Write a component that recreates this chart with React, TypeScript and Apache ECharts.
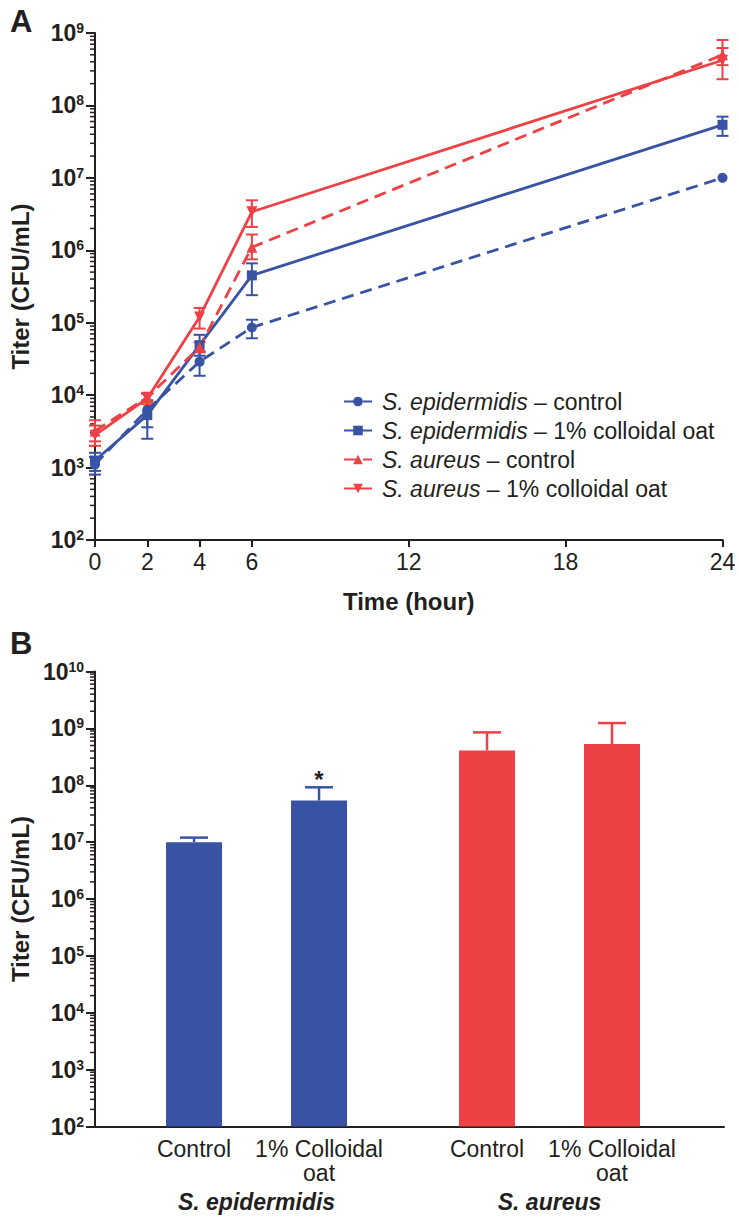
import React, { useEffect, useRef } from "react";
import * as echarts from "echarts";

// ---------- Panel A data ----------
const times = [0, 2, 4, 6, 24];
const timeTicks = [0, 2, 4, 6, 12, 18, 24];
const species = ["S. epidermidis", "S. aureus"];
const treatments = ["control", "1% colloidal oat"];

const epiControl = [1.1e3, 6.3e3, 2.9e4, 8.6e4, 1.0e7];
const epiControlLow = [0.8e3, 3.6e3, 1.85e4, 6.1e4, 1.0e7];
const epiControlHigh = [1.4e3, 8.5e3, 4.0e4, 1.1e5, 1.0e7];

const epiOat = [1.25e3, 5.3e3, 4.9e4, 4.5e5, 5.4e7];
const epiOatLow = [0.9e3, 2.5e3, 3.5e4, 2.4e5, 3.8e7];
const epiOatHigh = [1.6e3, 1.05e4, 6.8e4, 6.6e5, 7.0e7];

const aurControl = [3.2e3, 9.3e3, 4.6e4, 1.1e6, 5.0e8];
const aurControlLow = [2.3e3, 8.2e3, 3.9e4, 7.5e5, 3.6e8];
const aurControlHigh = [4.5e3, 1.05e4, 5.4e4, 1.65e6, 6.2e8];

const aurOat = [2.8e3, 9.0e3, 1.2e5, 3.4e6, 4.2e8];
const aurOatLow = [2.0e3, 7.5e3, 8.3e4, 2.1e6, 2.3e8];
const aurOatHigh = [3.8e3, 1.08e4, 1.6e5, 4.9e6, 8.0e8];

// ---------- Panel B data ----------
const barLabels = ["Control", "1% Colloidal\noat", "Control", "1% Colloidal\noat"];
const barGroupIndex = [0, 0, 1, 1];
const barWithinIndex = [0, 1, 0, 1];
const barValues = [1.0e7, 5.4e7, 4.1e8, 5.3e8];
const barErrHigh = [1.2e7, 9.2e7, 8.5e8, 1.24e9];
const barSig = ["", "*", "", ""];

// ---------- styles ----------
const BLUE = "#3953A4";
const RED = "#EE4145";
const INK = "#231F20";
const FONT = "'Liberation Sans', Arial, Helvetica, sans-serif";

const W = 739;
const H = 1223;

// panel B horizontal layout (pixels -> axis units)
const B_LEFT = 95;
const B_RIGHT = 724;
const B_UNIT = 125; // px between bars in a group
const B_GROUP_STEP = 168 / 125 + 1; // units between first bars of groups
const B_FIRST = 99; // px from axis start to first bar center
const bMin = -B_FIRST / B_UNIT;
const bMax = bMin + (B_RIGHT - B_LEFT) / B_UNIT;
const barPos = barGroupIndex.map((g, i) => g * B_GROUP_STEP + barWithinIndex[i]);
const groupPos = species.map((_, g) => g * B_GROUP_STEP + 0.5);

const minorValues = (lo: number, hi: number) => {
  const out: number[] = [];
  for (let e = lo; e < hi; e++) for (let m = 2; m <= 9; m++) out.push(m * Math.pow(10, e));
  return out;
};

const yLabel = {
  formatter: (v: number) => `{b|10}{s|${Math.round(Math.log10(v))}}`,
  margin: 11,
  rich: {
    b: { fontSize: 23, fontWeight: "bold", color: INK, fontFamily: FONT, lineHeight: 24 },
    s: { fontSize: 14, fontWeight: "bold", color: INK, fontFamily: FONT, verticalAlign: "top", padding: [0, 0, 10, 0] },
  },
};

const noZeroLine = { show: true, onZero: false, lineStyle: { color: INK, width: 2 } };

export default function App() {
  const ref = useRef<HTMLDivElement>(null);
  useEffect(() => {
    document.body.style.margin = "0";
    if (!ref.current) return;
    const chart = echarts.init(ref.current, null, { renderer: "svg" });

    const lineDefs = [
      { name: `${species[0]} – ${treatments[0]}`, data: epiControl, lo: epiControlLow, hi: epiControlHigh, color: BLUE, dashed: true, symbol: "circle", size: 10, rot: 0 },
      { name: `${species[0]} – ${treatments[1]}`, data: epiOat, lo: epiOatLow, hi: epiOatHigh, color: BLUE, dashed: false, symbol: "rect", size: 10, rot: 0 },
      { name: `${species[1]} – ${treatments[0]}`, data: aurControl, lo: aurControlLow, hi: aurControlHigh, color: RED, dashed: true, symbol: "triangle", size: 11, rot: 0 },
      { name: `${species[1]} – ${treatments[1]}`, data: aurOat, lo: aurOatLow, hi: aurOatHigh, color: RED, dashed: false, symbol: "triangle", size: 11, rot: 180 },
    ];

    const errSeries = (d: any) => ({
      type: "custom",
      name: d.name + " err",
      xAxisIndex: 0,
      yAxisIndex: 0,
      data: times.map((t, i) => [t, d.lo[i], d.hi[i]]),
      encode: { x: 0, y: [1, 2] },
      z: 3,
      renderItem: (params: any, api: any) => {
        const x = api.value(0);
        const pLo = api.coord([x, api.value(1)]);
        const pHi = api.coord([x, api.value(2)]);
        const hw = 6;
        const st = { stroke: d.color, lineWidth: 2, fill: "none" };
        if (Math.abs(pLo[1] - pHi[1]) < 1) return { type: "group", children: [] };
        return {
          type: "group",
          children: [
            { type: "line", shape: { x1: pLo[0], y1: pLo[1], x2: pHi[0], y2: pHi[1] }, style: st },
            { type: "line", shape: { x1: pLo[0] - hw, y1: pLo[1], x2: pLo[0] + hw, y2: pLo[1] }, style: st },
            { type: "line", shape: { x1: pHi[0] - hw, y1: pHi[1], x2: pHi[0] + hw, y2: pHi[1] }, style: st },
          ],
        };
      },
    });

    const minorSeries = (gridIdx: number, xMin: number, lo: number, hi: number) => ({
      type: "custom",
      name: "minor" + gridIdx,
      xAxisIndex: gridIdx,
      yAxisIndex: gridIdx,
      data: minorValues(lo, hi).map((v) => [xMin, v]),
      encode: { x: 0, y: 1 },
      silent: true,
      renderItem: (params: any, api: any) => {
        const p = api.coord([api.value(0), api.value(1)]);
        return {
          type: "line",
          shape: { x1: p[0] - 5, y1: p[1], x2: p[0], y2: p[1] },
          style: { stroke: INK, lineWidth: 1.5 },
        };
      },
    });

    const titleStyle = { fontSize: 24, fontWeight: "bold", color: INK, fontFamily: FONT };

    const option: any = {
      animation: false,
      textStyle: { fontFamily: FONT, color: INK },
      title: [
        { text: "A", left: 5, top: 1, textStyle: { fontSize: 31, fontWeight: "bold", color: INK, fontFamily: FONT } },
        { text: "B", left: 5, top: 623, textStyle: { fontSize: 31, fontWeight: "bold", color: INK, fontFamily: FONT } },
      ],
      grid: [
        { left: 95, top: 33, width: 722.5 - 95, height: 540 - 33 },
        { left: B_LEFT, top: 671.5, width: B_RIGHT - B_LEFT, height: 1126.5 - 671.5 },
      ],
      legend: {
        show: true,
        data: lineDefs.map((d) => d.name),
        orient: "vertical",
        left: 338,
        top: 385,
        itemWidth: 28,
        itemHeight: 12,
        itemGap: 6,
        selectedMode: false,
        formatter: (name: string) => {
          const [sp, tr] = name.split(" – ");
          return `{i|${sp}} – ${tr}`;
        },
        textStyle: {
          fontSize: 23,
          fontFamily: FONT,
          color: INK,
          padding: [0, 0, 0, 5],
          rich: { i: { fontStyle: "italic", fontSize: 23, fontFamily: FONT, color: INK } },
        },
      },
      xAxis: [
        {
          type: "value",
          gridIndex: 0,
          min: 0,
          max: 24,
          axisLine: noZeroLine,
          splitLine: { show: false },
          axisTick: { show: true, length: 7, lineStyle: { color: INK, width: 2 }, customValues: timeTicks },
          axisLabel: { customValues: timeTicks, fontSize: 23, color: INK, fontFamily: FONT, margin: 10 },
          name: "Time (hour)",
          nameLocation: "middle",
          nameGap: 49,
          nameTextStyle: titleStyle,
        },
        {
          type: "value",
          gridIndex: 1,
          min: bMin,
          max: bMax,
          axisLine: noZeroLine,
          splitLine: { show: false },
          axisTick: { show: false },
          axisLabel: {
            customValues: barPos,
            formatter: (v: number) => {
              const i = barPos.findIndex((p) => Math.abs(p - v) < 1e-6);
              return i >= 0 ? barLabels[i] : "";
            },
            fontSize: 23,
            lineHeight: 24,
            color: INK,
            fontFamily: FONT,
            margin: 10,
          },
        },
      ],
      yAxis: [
        {
          type: "log",
          logBase: 10,
          gridIndex: 0,
          min: 1e2,
          max: 1e9,
          axisLine: noZeroLine,
          splitLine: { show: false },
          axisTick: { show: true, length: 9, lineStyle: { color: INK, width: 2 } },
          axisLabel: yLabel,
          name: "Titer (CFU/mL)",
          nameLocation: "middle",
          nameGap: 63,
          nameTextStyle: titleStyle,
        },
        {
          type: "log",
          logBase: 10,
          gridIndex: 1,
          min: 1e2,
          max: 1e10,
          axisLine: noZeroLine,
          splitLine: { show: false },
          axisTick: { show: true, length: 9, lineStyle: { color: INK, width: 2 } },
          axisLabel: yLabel,
          name: "Titer (CFU/mL)",
          nameLocation: "middle",
          nameGap: 63,
          nameTextStyle: titleStyle,
        },
      ],
      series: [
        minorSeries(0, 0, 2, 9),
        minorSeries(1, bMin, 2, 10),
        ...lineDefs.map(errSeries),
        ...lineDefs.map((d) => ({
          type: "line",
          name: d.name,
          xAxisIndex: 0,
          yAxisIndex: 0,
          data: times.map((t, i) => [t, d.data[i]]),
          symbol: d.symbol,
          symbolSize: d.size,
          symbolRotate: d.rot,
          showSymbol: true,
          z: 4,
          itemStyle: { color: d.color },
          lineStyle: { color: d.color, width: 2.8, type: d.dashed ? [12, 7] : "solid" },
        })),
        {
          type: "bar",
          name: "bars",
          xAxisIndex: 1,
          yAxisIndex: 1,
          clip: true,
          barWidth: 56,
          data: barValues.map((v, i) => ({
            value: [barPos[i], v],
            itemStyle: { color: barGroupIndex[i] === 0 ? BLUE : RED },
          })),
        },
        {
          type: "custom",
          name: "bar err",
          xAxisIndex: 1,
          yAxisIndex: 1,
          z: 5,
          data: barValues.map((v, i) => [barPos[i], v, barErrHigh[i], i]),
          encode: { x: 0, y: [1, 2] },
          renderItem: (params: any, api: any) => {
            const x = api.value(0);
            const i = api.value(3);
            const color = barGroupIndex[i] === 0 ? BLUE : RED;
            const pLo = api.coord([x, api.value(1)]);
            const pHi = api.coord([x, api.value(2)]);
            const st = { stroke: color, lineWidth: 2.5, fill: "none" };
            const children: any[] = [
              { type: "line", shape: { x1: pLo[0], y1: pLo[1], x2: pHi[0], y2: pHi[1] }, style: st },
              { type: "line", shape: { x1: pHi[0] - 14, y1: pHi[1], x2: pHi[0] + 14, y2: pHi[1] }, style: st },
            ];
            if (barSig[i]) {
              children.push({
                type: "text",
                x: pHi[0],
                y: pHi[1] + 4,
                style: {
                  text: barSig[i],
                  fontSize: 24,
                  fontWeight: "bold",
                  fontFamily: FONT,
                  fill: INK,
                  align: "center",
                  verticalAlign: "bottom",
                },
              });
            }
            return { type: "group", children };
          },
        },
      ],
    };
    chart.setOption(option);

    // group labels under the category labels, placed through the panel B x scale
    const baseY = chart.convertToPixel({ yAxisIndex: 1 }, 1e2) as number;
    chart.setOption({
      graphic: species.map((s, g) => ({
        type: "text",
        x: chart.convertToPixel({ xAxisIndex: 1 }, groupPos[g]) as number,
        y: baseY + 75,
        style: {
          text: s,
          fontSize: 23,
          fontWeight: "bold",
          fontStyle: "italic",
          fontFamily: FONT,
          fill: INK,
          align: "center",
          verticalAlign: "middle",
        },
      })),
    });
    return () => chart.dispose();
  }, []);
  return <div ref={ref} style={{ width: W, height: H }} />;
}
